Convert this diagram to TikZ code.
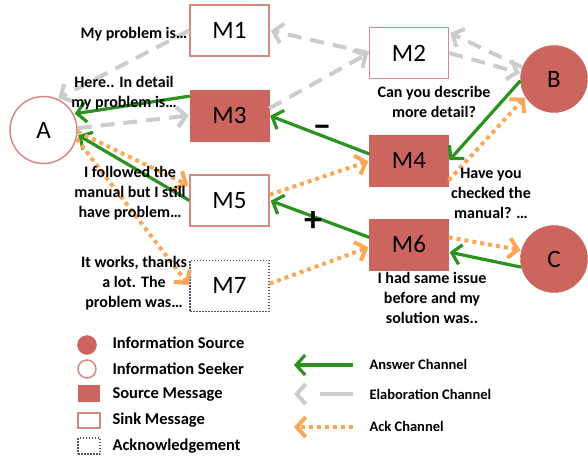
\documentclass[tikz,border=0pt]{standalone}
\usepackage{fontspec}
\setmainfont{Carlito}
\definecolor{srcred}{RGB}{205,101,95}
\definecolor{sinkred}{RGB}{216,136,131}
\definecolor{answergreen}{RGB}{42,146,30}
\definecolor{elabgray}{RGB}{204,204,204}
\definecolor{ackorange}{RGB}{250,168,88}
\definecolor{ackdot}{RGB}{75,85,105}
\usetikzlibrary{
  arrows.meta,
  positioning,
}
\tikzset{
  >={Straight Barb[length=9pt,width=20pt]},
  shorten >=1pt,
  source/.style={circle,draw=srcred,fill=srcred,minimum size=67pt,inner sep=0pt,font=\fontsize{25}{25}\selectfont},
  seeker/.style={circle,draw=sinkred,fill=white,line width=1.5pt,minimum size=67pt,inner sep=0pt,font=\fontsize{25}{25}\selectfont},
  srcmsg/.style={rectangle,draw=srcred,fill=srcred,minimum width=79pt,minimum height=51pt,font=\fontsize{25}{25}\selectfont},
  sinkmsg/.style={rectangle,draw=sinkred,fill=white,line width=1.5pt,minimum width=79pt,minimum height=51pt,font=\fontsize{25}{25}\selectfont},
  ackmsg/.style={rectangle,draw=ackdot,fill=white,line width=1.2pt,dash pattern=on 1.5pt off 1.5pt,minimum width=79pt,minimum height=51pt,font=\fontsize{25}{25}\selectfont},
  answer/.style={draw=answergreen,line width=3.2pt},
  elab/.style={draw=elabgray,line width=4pt,dash pattern=on 14pt off 9pt},
  ack/.style={draw=ackorange,line width=4pt,dash pattern=on 4pt off 4pt},
  msgtext/.style={align=center,font=\bfseries\fontsize{16}{20}\selectfont},
  keytext/.style={anchor=west,font=\bfseries\fontsize{16.5}{20}\selectfont},
  chantext/.style={anchor=west,font=\bfseries\fontsize{14.5}{18}\selectfont},
}
\begin{document}
\begin{tikzpicture}[x=1pt,y=-1pt,node distance=33pt]
        \useasboundingbox (0,0) rectangle (588,458);
        % agents
        \node[seeker] (a) at (43.5,130) {A};
        \node[source] (b) at (554,79)   {B};
        \node[source] (c) at (554,259)  {C};
        % messages
        \node[sinkmsg] (m1) at (229.5,30.5) {M1};
        \node[srcmsg]  (m3) [below=of m1]   {M3};
        \node[sinkmsg] (m5) [below=of m3]   {M5};
        \node[ackmsg]  (m7) [below=of m5]   {M7};
        \node[sinkmsg] (m2) at (409,53)     {M2};
        \node[srcmsg]  (m4) [below=56pt of m2] {M4};
        \node[srcmsg]  (m6) [below=32pt of m4] {M6};

        % elaboration channel
        \draw[elab,->] (m1.west) -- (a.66);
        \draw[elab,->] (a.3) -- (m3.west);
        \draw[elab,->] (m2.west) -- (m1.east);
        \draw[elab,->] (m3.10) -- (m2.west);
        \draw[elab,->] (b.160) -- (m2.27);
        \draw[elab,->] (m2.east) -- (b.170);
        % answer channel
        \draw[answer,->] (m3.154) -- (a.28);
        \draw[answer,->] (m5.west) -- (a.-8);
        \draw[answer,->] (m4.170) -- (m3.east);
        \draw[answer,->] (m6.170) -- (m5.east);
        \draw[answer,->] (b.183) -- (m4.east);
        \draw[answer,->] (c.194) -- (m6.-11);
        % ack channel
        \draw[ack,->] (a.-3) -- (m5.160);
        \draw[ack,->] (a.-15) -- (m7.west);
        \draw[ack,->] (m5.8) -- (m4.west);
        \draw[ack,->] (m7.3) -- (m6.184);
        \draw[ack,->] (m4.-26) -- (b.212);
        \draw[ack,->] (m6.10) -- (c.165);

        % message texts
        \node[msgtext] (t1) at (134,34)  {My problem is…};
        \node[msgtext] (t3) at (124,93)  {Here.. In detail\\my problem is…};
        \node[msgtext] (t2) at (434,102) {Can you describe\\more detail?};
        \node[msgtext] (t4) at (491,193) {Have you\\checked the\\manual? …};
        \node[msgtext] (t5) at (130,193) {I followed the\\manual but I still\\have problem…};
        \node[msgtext] (t7) at (134,283) {It works, thanks\\a lot. The\\problem was…};
        \node[msgtext] (t6) at (432,298) {I had same issue\\before and my\\solution was..};
        \node[font=\bfseries\fontsize{34}{34}\selectfont] (minus) at (322,131) {−};
        \node[font=\bfseries\fontsize{36}{36}\selectfont] (plus) at (313,222) {+};

        % legend
        \node[source,minimum size=19pt] (ksrc)  at (87,345) {};
        \node[seeker,minimum size=18pt] (kseek) at (87,369) {};
        \node[srcmsg,minimum width=21pt,minimum height=16pt]  (kmsg)  at (88.5,393) {};
        \node[sinkmsg,minimum width=22pt,minimum height=15pt] (ksink) at (89,420.5) {};
        \node[ackmsg,minimum width=22pt,minimum height=16pt]  (kack)  at (89,446) {};
        \node[keytext] (lsrc)  at (109,343) {Information Source};
        \node[keytext] (lseek) at (109,369) {Information Seeker};
        \node[keytext] (lmsg)  at (109,394) {Source Message};
        \node[keytext] (lsink) at (109,420) {Sink Message};
        \node[keytext] (lack)  at (109,446) {Acknowledgement};

        \coordinate (kans0) at (353,365);
        \coordinate (kans1) at (293,365);
        \coordinate (kela0) at (353,394);
        \coordinate (kela1) at (293,394);
        \coordinate (kackc0) at (353,427);
        \coordinate (kackc1) at (293,427);
        \draw[answer,->] (kans0) -- (kans1);
        \draw[elab,->,dash pattern=on 33pt off 40pt] (kela0) -- (kela1);
        \draw[ack,->] (kackc0) -- (kackc1);
        \node[chantext] (lans) at (366,364) {Answer Channel};
        \node[chantext] (lela) at (366,394) {Elaboration Channel};
        \node[chantext] (lackc) at (366,426) {Ack Channel};
\end{tikzpicture}
\end{document}
